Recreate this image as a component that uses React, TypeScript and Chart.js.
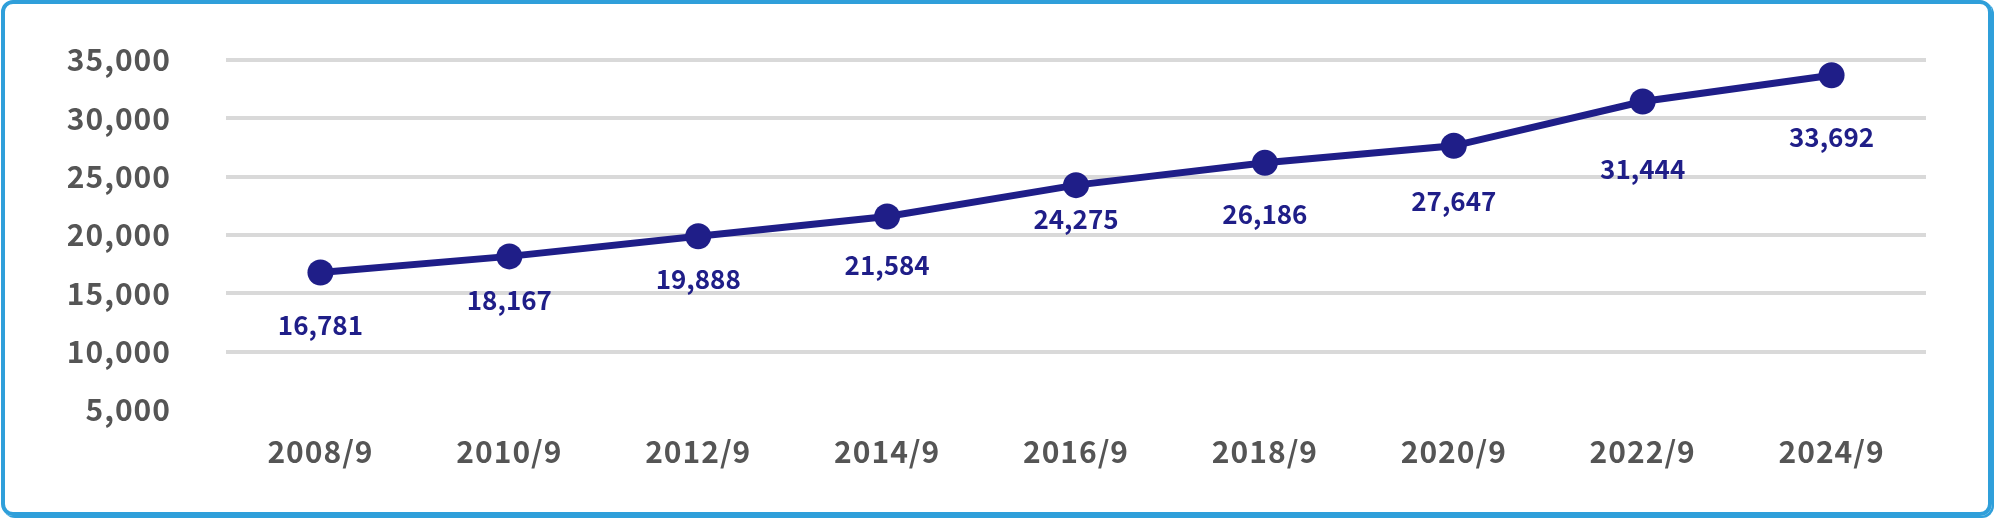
import React, { useEffect, useRef } from "react";
import { Chart, registerables } from "chart.js";

Chart.register(...registerables);

const categories = ["2008/9", "2010/9", "2012/9", "2014/9", "2016/9", "2018/9", "2020/9", "2022/9", "2024/9"];
const values = [16781, 18167, 19888, 21584, 24275, 26186, 27647, 31444, 33692];
const yMin = 5000;
const yMax = 35000;
const yStep = 5000;

const FONT = "'Noto Sans CJK JP', 'Noto Sans', sans-serif";
const NAVY = "#1f1e88";
const AXIS_TEXT = "#555555";
const CLEAR = "rgba(0,0,0,0)";

const spacingPlugin = {
  id: "spacing",
  beforeDraw(chart: any) {
    try { chart.ctx.letterSpacing = "1px"; } catch (e) {}
  },
  beforeDatasetsDraw(chart: any) {
    try { chart.ctx.letterSpacing = "0px"; } catch (e) {}
  },
};

const valueLabelPlugin = {
  id: "valueLabels",
  afterDatasetsDraw(chart: any, _args: any, opts: any) {
    const ctx = chart.ctx;
    const meta = chart.getDatasetMeta(0);
    const offsets: number[] = opts.offsets || [];
    ctx.save();
    try { ctx.letterSpacing = "0px"; } catch (e) {}
    ctx.font = `bold ${opts.size}px ${FONT}`;
    ctx.fillStyle = opts.color;
    ctx.textAlign = "center";
    ctx.textBaseline = "middle";
    meta.data.forEach((pt: any, i: number) => {
      const v = chart.data.datasets[0].data[i] as number;
      ctx.fillText(v.toLocaleString("en-US"), pt.x, pt.y + (offsets[i] ?? 50));
    });
    ctx.restore();
  },
};

export default function App() {
  const ref = useRef<HTMLCanvasElement | null>(null);

  useEffect(() => {
    document.body.style.margin = "0";
    if (!ref.current) return;
    const chart = new Chart(ref.current, {
      type: "line",
      data: {
        labels: categories,
        datasets: [
          {
            data: values,
            borderColor: NAVY,
            backgroundColor: NAVY,
            borderWidth: 7,
            pointRadius: 13,
            pointBackgroundColor: NAVY,
            pointBorderColor: NAVY,
            pointBorderWidth: 0,
            tension: 0,
          },
        ],
      },
      options: {
        animation: false,
        responsive: false,
        maintainAspectRatio: false,
        layout: { padding: { top: 60, right: 70, bottom: 0, left: 0 } },
        plugins: {
          legend: { display: false },
          tooltip: { enabled: false },
          valueLabels: { size: 26, color: NAVY, offsets: [53, 44, 43, 49, 34, 51, 55, 68, 62] },
        } as any,
        scales: {
          x: {
            offset: true,
            grid: { display: false, drawTicks: false },
            border: { display: false },
            ticks: {
              color: AXIS_TEXT,
              font: { family: FONT, size: 30, weight: "bold" },
              padding: 24,
              maxRotation: 0,
              autoSkip: false,
            },
            afterFit: (scale: any) => { scale.height = 110; },
          },
          y: {
            min: yMin,
            max: yMax,
            grid: {
              drawTicks: true,
              tickLength: 55,
              tickColor: CLEAR,
              lineWidth: 4,
              color: (c: any) => (c.tick && c.tick.value === yMin ? CLEAR : "#d9d9d9"),
            },
            border: { display: false },
            ticks: {
              stepSize: yStep,
              color: AXIS_TEXT,
              font: { family: FONT, size: 30, weight: "bold" },
              padding: 0,
              callback: (v: any) => Number(v).toLocaleString("en-US"),
            },
            afterFit: (scale: any) => { scale.width = 226; },
          },
        },
      },
      plugins: [spacingPlugin, valueLabelPlugin],
    });
    return () => chart.destroy();
  }, []);

  return (
    <div style={{ position: "relative", width: 1996, height: 520, background: "#fff" }}>
      <canvas ref={ref} width={1996} height={520} style={{ position: "absolute", left: 0, top: 0, width: 1996, height: 520 }} />
      <div
        style={{
          position: "absolute",
          left: 1,
          top: 0,
          width: 1991,
          height: 516,
          boxSizing: "border-box",
          border: "4px solid #2f9fda",
          borderRadius: 12,
          boxShadow: "2px 2px 0 #2f9fda",
          pointerEvents: "none",
        }}
      />
    </div>
  );
}
